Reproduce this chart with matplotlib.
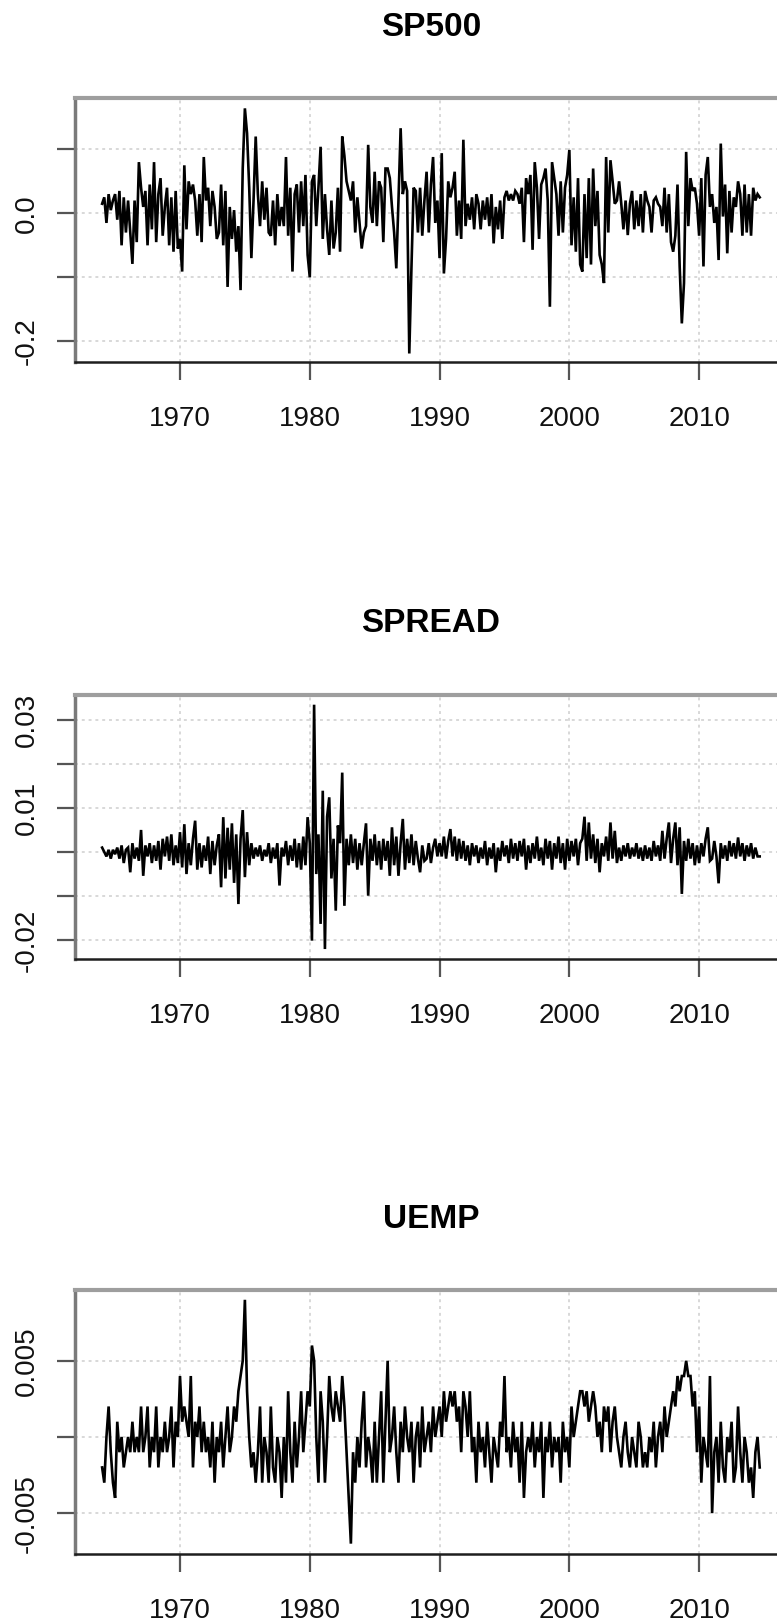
import numpy as np
import matplotlib
matplotlib.use('Agg')
import matplotlib.pyplot as plt

plt.rcParams['font.family'] = ['Liberation Sans', 'DejaVu Sans']

# ── Data (bimonthly samples) ─────────────────────────────────
START = 1964.0
PER_YEAR = 6

# SP500 returns, in percent
sp500_pct = [
    1.5, 2.5, -1.5, 3.0, 0.5, 2.0,        # 1964
    3.0, -1.0, 3.5, -5.0, 2.5, -3.0,      # 1965
    2.0, -3.0, -7.9, 2.0, -4.5, 8.0,      # 1966
    4.0, 1.0, 3.5, -5.0, 4.5, -2.5,       # 1967
    8.0, -4.5, 3.0, 5.5, -3.5, 1.0,       # 1968
    4.0, -5.0, 2.5, -6.0, 3.5, -5.5,      # 1969
    -4.0, -9.1, 7.5, -2.5, 5.0, 3.0,      # 1970
    4.5, 2.0, -3.5, 3.0, -4.5, 8.8,       # 1971
    2.0, 4.0, -2.0, 3.5, 1.0, -4.0,       # 1972
    -3.0, 4.5, -5.0, 3.5, -11.5, 1.0,     # 1973
    -4.0, 0.5, -6.0, -2.0, -12.0, 7.0,    # 1974
    16.4, 12.5, 4.0, -7.0, 2.0, 12.0,     # 1975
    3.0, -2.0, 5.0, -1.0, 4.0, -3.0,      # 1976
    -3.5, 2.0, -5.0, 3.0, -2.0, 1.0,      # 1977
    -2.0, 8.8, -3.5, 4.0, -9.1, 3.0,      # 1978
    4.5, -3.0, 5.0, -2.0, 6.0, -6.5,      # 1979
    -10.0, 5.0, 6.0, -2.0, 4.0, 10.4,     # 1980
    -4.0, 3.0, -2.5, -6.5, 2.0, -5.5,     # 1981
    -3.0, 4.0, -6.0, 12.0, 9.0, 5.0,      # 1982
    3.5, 2.0, 5.0, -3.0, 2.5, -1.5,       # 1983
    -5.5, -3.0, -2.0, 10.7, 1.0, -1.5,    # 1984
    6.5, -2.0, 5.0, 4.0, -4.5, 7.0,       # 1985
    7.0, 5.5, 1.0, -3.0, -8.6, 2.0,       # 1986
    13.3, 3.0, 5.0, 3.5, -21.9, -8.5,     # 1987
    4.0, 3.5, -3.0, 4.0, -3.5, 2.0,       # 1988
    6.5, -3.0, 4.5, 8.8, -1.5, 2.0,       # 1989
    -7.0, 9.4, -9.4, -4.0, 5.0, 2.5,      # 1990
    4.0, 6.5, -3.5, 2.0, -4.0, 11.5,      # 1991
    -2.0, 1.5, -1.0, 2.5, -2.5, 3.0,      # 1992
    1.5, -2.5, 2.0, -1.0, 2.5, -2.0,      # 1993
    3.0, -4.7, 1.0, -2.5, 2.0, -4.0,      # 1994
    2.5, 3.5, 2.0, 3.0, 2.0, 3.5,         # 1995
    3.0, 1.5, 4.0, -4.5, 5.5, 3.0,        # 1996
    6.0, -5.7, 8.0, 4.0, -4.0, 4.5,       # 1997
    5.5, 7.0, 2.0, -14.6, 8.0, 5.5,       # 1998
    3.0, -3.5, 5.0, -3.0, 4.0, 6.0,       # 1999
    9.9, -5.0, 2.5, -6.0, 5.5, -8.0,      # 2000
    -9.1, 3.0, -7.0, 5.5, -8.0, 7.0,      # 2001
    -2.0, 3.5, -6.5, -8.0, -10.9, 8.8,    # 2002
    -3.0, 8.3, 5.0, 1.5, 2.0, 5.0,        # 2003
    1.5, -2.5, 2.0, -3.4, 1.5, 3.5,       # 2004
    -2.5, 2.0, -2.0, 3.0, -3.0, 3.5,      # 2005
    2.0, 1.0, -3.0, 2.0, 2.5, 1.5,        # 2006
    1.0, -2.0, 4.0, -3.0, 3.0, -4.5,      # 2007
    -6.0, -3.5, 4.5, -8.3, -17.2, -10.9,  # 2008
    9.6, -2.0, 5.5, 3.5, 4.0, 1.5,        # 2009
    -3.5, 5.5, -8.3, 6.0, 8.8, 1.0,       # 2010
    3.0, -1.5, 1.0, -7.3, 10.9, -0.5,     # 2011
    4.5, -6.25, 3.5, -3.0, 2.5, 1.0,      # 2012
    5.0, 3.0, -3.5, 4.5, -3.0, 3.0,       # 2013
    -3.5, 4.0, 2.0, 3.0, 2.5,             # 2014
]

# SPREAD changes, in units of 0.001
spread_milli = [
    1.0, 0.0, -1.0, 0.5, -1.5, 0.5,       # 1964
    -0.5, 1.0, -1.5, 1.5, -2.5, 0.5,      # 1965
    1.0, -4.6, 2.0, -1.5, 1.0, -2.0,      # 1966
    5.0, -5.4, 1.5, -1.0, 2.0, -2.5,      # 1967
    1.5, -2.0, 2.5, -4.0, 3.0, -1.0,      # 1968
    3.5, -2.0, 4.0, -3.0, 1.5, -2.5,      # 1969
    4.5, -3.5, 6.3, -5.0, 2.0, -3.0,      # 1970
    3.0, 7.1, -4.0, 2.0, -3.5, 1.5,       # 1971
    -2.0, 3.5, -5.0, 2.5, -3.0, 1.5,      # 1972
    4.0, -8.0, 7.9, -6.0, 5.5, -4.0,      # 1973
    6.5, -7.0, 4.0, -11.8, 3.0, 9.5,      # 1974
    -5.7, 4.5, -3.0, 2.0, -1.5, 1.0,      # 1975
    -1.0, 1.5, -2.0, 0.5, -1.0, 2.0,      # 1976
    -2.5, 1.0, -1.5, 2.0, -7.6, 1.0,      # 1977
    -1.0, 2.5, -3.0, 1.5, -2.0, 3.0,      # 1978
    -3.5, 2.0, -4.0, 3.5, -3.0, 7.9,      # 1979
    2.0, -20.1, 33.4, -5.0, 4.0, -16.3,   # 1980
    13.9, -22.0, 8.0, 12.4, -6.0, 3.0,    # 1981
    -13.3, 6.0, 2.0, 18.0, -12.2, 3.0,    # 1982
    -3.0, 4.0, -2.5, 3.0, -4.0, 2.0,      # 1983
    -3.0, 2.0, 6.5, -9.9, 3.0, -2.0,      # 1984
    4.0, -3.0, 2.5, -4.0, 3.0, -2.0,      # 1985
    2.5, -5.4, 5.6, -3.0, 3.5, -5.4,      # 1986
    2.0, 7.5, -4.0, 3.0, -2.5, 4.0,       # 1987
    -3.0, 2.5, -1.5, -4.6, 1.5, -2.0,     # 1988
    -1.5, 2.0, -2.5, 1.0, 3.0, -1.0,      # 1989
    2.0, -1.0, 3.5, -1.5, 2.5, 5.2,       # 1990
    -1.0, 3.5, -2.0, 3.0, -1.5, 2.5,      # 1991
    -2.0, 1.5, -3.0, 2.0, -1.0, 1.5,      # 1992
    -2.5, 1.0, -1.5, 2.5, -3.0, 1.0,      # 1993
    -1.5, 2.0, -4.6, 1.0, -2.0, 2.5,      # 1994
    -1.0, 1.5, -2.5, 3.0, -1.5, 2.0,      # 1995
    -2.0, 2.5, -1.0, 3.0, -4.0, 1.5,      # 1996
    -2.5, 2.0, -1.5, 3.5, -2.0, 1.0,      # 1997
    -3.0, 3.0, -1.5, 2.5, -4.0, 2.0,      # 1998
    -1.5, 3.5, -2.5, 2.0, -4.0, 3.0,      # 1999
    -2.0, 2.5, -1.0, 3.0, -3.0, 2.0,      # 2000
    3.0, 8.0, -2.0, 6.7, -1.5, 4.0,       # 2001
    -2.5, 3.0, -4.6, 2.0, -1.0, 3.5,      # 2002
    -2.0, 6.7, -1.5, 4.8, -2.5, 1.0,      # 2003
    -2.0, 1.5, -1.0, 2.0, -1.5, 1.0,      # 2004
    -1.0, 2.0, -1.5, 1.0, -2.0, 1.5,      # 2005
    -1.5, 1.0, -2.0, 2.5, -1.0, 1.5,      # 2006
    -2.0, 4.8, -1.5, 3.0, 6.7, -2.5,      # 2007
    3.0, 6.7, -3.0, 5.6, -9.5, 2.5,       # 2008
    -2.0, 3.0, -1.5, 2.0, -3.0, 1.5,      # 2009
    -2.5, 2.0, -1.0, 3.0, 5.6, -2.0,      # 2010
    -1.5, 2.5, -1.0, -7.1, 2.0, -1.5,     # 2011
    1.5, -2.0, 2.5, -1.0, 2.0, -1.5,      # 2012
    3.3, -1.0, 2.0, -2.0, 1.5, -1.0,      # 2013
    2.0, -1.5, 1.0, -1.0, -1.0,           # 2014
]

# UEMP changes, in units of 0.001
uemp_milli = [
    -2, -3, 0, 2, -1, -3,     # 1964
    -4, 1, -1, 0, -2, -1,     # 1965
    0, -1, 1, -1, 0, -1,      # 1966
    2, -1, 0, 2, -2, 0,       # 1967
    -1, 2, -2, 0, -1, 1,      # 1968
    -1, 0, 2, -2, 1, 0,       # 1969
    4, 1, 2, 1, 0, 4,         # 1970
    -2, 1, 0, 2, -1, 1,       # 1971
    -1, 0, -2, 1, -3, 0,      # 1972
    -1, 1, -2, 0, 2, -1,      # 1973
    0, 2, 1, 3, 4, 5,         # 1974
    9, 3, 0, -2, -1, -3,      # 1975
    -1, 2, -3, 0, -1, -3,     # 1976
    2, -2, -3, 0, -1, -4,     # 1977
    0, -3, 3, -1, -3, 1,      # 1978
    -2, 0, 3, -1, 1, 3,       # 1979
    2, 6, 5, 0, -3, 3,        # 1980
    1, -3, 0, 4, 2, 1,        # 1981
    3, 2, 1, 4, 2, -1,        # 1982
    -4, -7, -1, -3, 0, -2,    # 1983
    1, 3, -2, 0, -1, -3,      # 1984
    1, -3, 0, 3, -3, 1,       # 1985
    5, -1, 0, 2, -1, -3,      # 1986
    1, -1, 2, 0, -1, 1,       # 1987
    -3, 0, 1, -2, 2, -1,      # 1988
    0, 1, -1, 2, 0, 1,        # 1989
    2, 0, 3, 1, 2, 3,         # 1990
    2, 3, 1, 2, -1, 3,        # 1991
    2, 0, 3, -1, 0, -3,       # 1992
    1, -1, 0, -2, 1, -1,      # 1993
    -3, 0, -1, -2, 1, 0,      # 1994
    4, -1, 0, -2, 1, -1,      # 1995
    0, -3, 1, -4, -1, 0,      # 1996
    -1, 1, -2, 0, -1, 1,      # 1997
    -4, 0, -1, 1, -2, 0,      # 1998
    -1, 0, -3, 1, -1, 0,      # 1999
    -2, 2, 0, 1, 2, 3,        # 2000
    3, 2, 3, 1, 2, 3,         # 2001
    2, 0, 1, -1, 2, 1,        # 2002
    2, -1, 1, 2, 0, -1,       # 2003
    -2, 0, 1, -1, -2, 0,      # 2004
    -1, -2, 1, 0, -2, -1,     # 2005
    -2, 0, -1, 1, -2, 0,      # 2006
    1, -1, 2, 0, 1, 2,        # 2007
    3, 2, 4, 3, 4, 4,         # 2008
    5, 4, 4, 2, 3, -1,        # 2009
    2, -3, 0, -1, -2, 4,      # 2010
    -5, -1, 0, -3, 1, -2,     # 2011
    -3, 0, -1, 1, -3, -2,     # 2012
    2, -1, -3, 0, -1, -3,     # 2013
    -2, -4, -1, 0, -2,        # 2014
]

YEAR_TICKS = [1970, 1980, 1990, 2000, 2010]

panels = [
    # title, values, y-range, ticks, tick labels, axes top (px)
    ('SP500', np.array(sp500_pct) / 100, (-0.2323, 0.1802),
     [-0.2, -0.1, 0.0, 0.1], ['-0.2', '', '0.0', ''], 98),
    ('SPREAD', np.array(spread_milli) / 1000, (-0.02426, 0.0356),
     [-0.02, -0.01, 0.0, 0.01, 0.02, 0.03], ['-0.02', '', '', '0.01', '', '0.03'], 695),
    ('UEMP', np.array(uemp_milli) / 1000, (-0.00768, 0.009643),
     [-0.005, 0.0, 0.005], ['-0.005', '', '0.005'], 1290),
]

W, H = 777, 1623
fig = plt.figure(figsize=(W / 100, H / 100), dpi=100)

AX_LEFT, AX_W, AX_H = 75, 712, 264   # axes runs past the right edge, as in the source

for title, vals, ylim, yt, ytl, top in panels:
    ax = fig.add_axes([AX_LEFT / W, 1 - (top + AX_H) / H, AX_W / W, AX_H / H])
    t = START + np.arange(len(vals)) / PER_YEAR
    ax.plot(t, vals, color='black', lw=1.9, solid_joinstyle='miter', zorder=3)

    ax.set_xlim(1961.91, 2016.77)
    ax.set_ylim(*ylim)
    ax.set_xticks(YEAR_TICKS)
    ax.set_xticklabels([str(y) for y in YEAR_TICKS])
    ax.set_yticks(yt)
    ax.set_yticklabels(ytl, rotation=90, va='center', ha='center')

    ax.grid(True, color='#d8d8d8', lw=1.4, linestyle=(0, (1.5, 2.0)), zorder=0)

    ax.spines['top'].set_color('#9e9e9e')
    ax.spines['top'].set_linewidth(3.0)
    ax.spines['left'].set_color('#7a7a7a')
    ax.spines['left'].set_linewidth(2.5)
    ax.spines['bottom'].set_color('#1e1e1e')
    ax.spines['bottom'].set_linewidth(1.8)
    ax.spines['right'].set_visible(False)

    ax.tick_params(axis='both', direction='out', length=13, width=1.6,
                   color='#555555', labelsize=20, labelcolor='#111111')
    ax.tick_params(axis='y', pad=21.5)
    ax.tick_params(axis='x', pad=19)

    ax.set_title(title, fontsize=24, fontweight='bold', pad=45)

plt.savefig('out.png', dpi=100)
plt.close()
print('saved out.png')
